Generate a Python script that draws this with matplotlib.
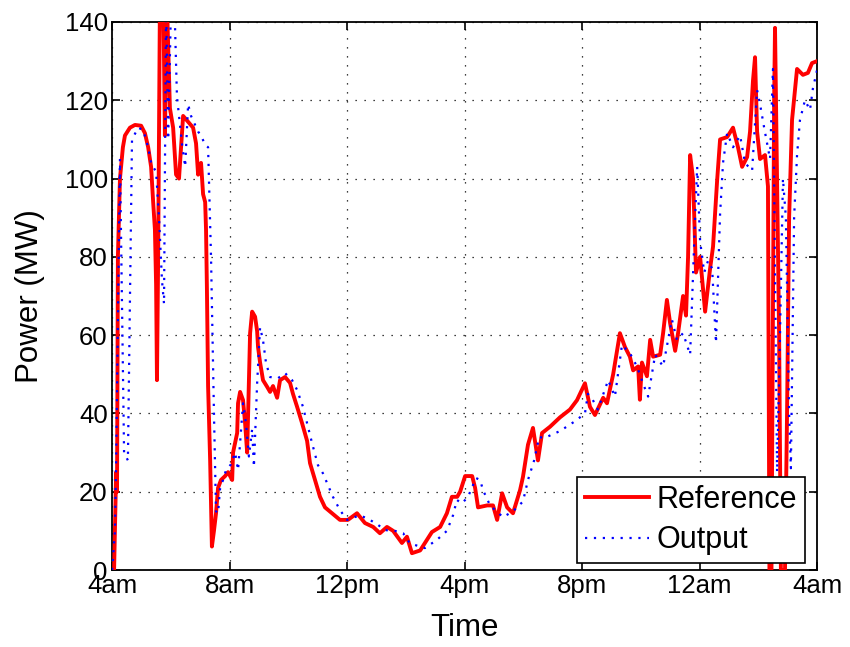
import matplotlib
matplotlib.use("Agg")
import matplotlib.pyplot as plt

# ---- data (hours since 4am) ----
ref_hours = [0.0, 0.07, 0.14, 0.17, 0.20, 0.27, 0.37, 0.44, 0.61, 0.78, 0.99, 1.12, 1.23, 1.33,
             1.40, 1.46, 1.50, 1.53, 1.57, 1.63, 1.74, 1.80, 1.87, 1.97, 2.08, 2.18, 2.28, 2.42,
             2.59, 2.76, 2.86, 2.93, 3.03, 3.10, 3.17, 3.20, 3.23, 3.27, 3.34, 3.40, 3.47, 3.54,
             3.61, 3.71, 3.85, 3.95, 4.09, 4.12, 4.26, 4.29, 4.36, 4.46, 4.53, 4.60, 4.63, 4.70,
             4.77, 4.87, 4.94, 4.97, 5.04, 5.14, 5.28, 5.38, 5.48, 5.62, 5.72, 5.89, 6.06, 6.16,
             6.30, 6.47, 6.64, 6.74, 6.91, 7.08, 7.25, 7.49, 7.76, 8.03, 8.34, 8.61, 8.89, 9.12,
             9.36, 9.57, 9.87, 10.04, 10.21, 10.49, 10.72, 10.89, 11.17, 11.40, 11.57, 11.75,
             11.85, 12.02, 12.26, 12.36, 12.46, 12.77, 12.97, 13.11, 13.28, 13.45, 13.65, 13.89,
             13.99, 14.16, 14.33, 14.50, 14.64, 14.91, 15.25, 15.59, 15.83, 16.10, 16.27, 16.44,
             16.72, 16.85, 17.06, 17.29, 17.46, 17.63, 17.74, 17.91, 17.97, 18.04, 18.21, 18.32,
             18.42, 18.66, 18.76, 18.89, 19.00, 19.17, 19.27, 19.44, 19.54, 19.61, 19.68, 19.78,
             19.88, 20.02, 20.19, 20.36, 20.46, 20.60, 20.70, 20.94, 21.14, 21.31, 21.45, 21.62,
             21.72, 21.82, 21.89, 21.96, 22.06, 22.23, 22.33, 22.38, 22.45, 22.54, 22.57, 22.64,
             22.71, 22.77, 22.91, 22.98, 23.05, 23.15, 23.32, 23.52, 23.69, 23.83, 24.0]
ref_power = [0, 0, 25, 20, 80, 100, 108, 111, 113, 113.7, 113.5, 111.6, 108, 103,
             94, 87, 73, 48.5, 80, 145, 150, 111, 145, 118, 113, 101, 100, 116,
             114.5, 113, 109, 101, 104, 96, 94, 87, 72, 47, 28, 6, 10, 14.5,
             21, 23, 24, 25, 23, 30, 35, 42.6, 45.5, 43.4, 37.5, 30, 39, 60.5,
             66, 64.7, 61, 57, 53, 48.5, 46.8, 45.5, 47, 44, 48.5, 49.3, 47.8, 45,
             41.7, 37.5, 33, 27.3, 23, 18.7, 16, 14.5, 12.8, 12.8, 14.5, 12, 11, 9.4,
             11, 10, 6.9, 8.5, 4.3, 5, 7.7, 9.7, 11, 14.5, 18.7, 18.7,
             20, 24, 24, 21, 16, 16.5, 16.5, 12.8, 19.6, 16, 14.5, 20.4,
             23.8, 32, 36.3, 28, 35, 36.6, 39, 41, 43.4, 47.7, 41.7, 39.6,
             44, 42.6, 50, 60.5, 57, 54.5, 51, 52, 43.5, 53, 49.5, 58.8,
             54.5, 55, 60.5, 69, 63, 56, 60.5, 70, 65, 80, 106, 100,
             76, 80, 66, 77, 82.6, 99.6, 110, 110.6, 113, 108, 103, 105.5,
             112, 125, 131, 112, 105, 106, 98, 0, 0, 120, 138.5, 100,
             60, 0, 0, 40, 90, 115, 128, 126.5, 127, 129.5, 130]

out_hours = [0.0, 0.10, 0.14, 0.27, 0.41, 0.54, 0.68, 0.89, 1.06, 1.23, 1.33, 1.50, 1.60, 1.70,
             1.77, 1.84, 1.91, 2.01, 2.14, 2.21, 2.28, 2.38, 2.49, 2.59, 2.69, 2.83, 2.93, 3.03,
             3.17, 3.27, 3.37, 3.47, 3.54, 3.61, 3.68, 3.78, 3.88, 4.05, 4.19, 4.29, 4.46, 4.56,
             4.66, 4.77, 4.83, 4.94, 5.04, 5.14, 5.24, 5.38, 5.65, 5.89, 6.13, 6.30, 6.50, 6.67,
             6.81, 7.01, 7.18, 7.35, 7.52, 7.76, 8.00, 8.44, 8.78, 9.06, 9.29, 9.63, 9.91, 10.14,
             10.65, 11.06, 11.40, 11.61, 11.74, 11.91, 12.12, 12.39, 12.53, 12.63, 12.87, 13.31,
             13.65, 13.99, 14.16, 14.37, 14.54, 14.71, 15.25, 15.76, 16.10, 16.20, 16.37, 16.54,
             16.89, 17.12, 17.36, 17.63, 17.87, 18.11, 18.25, 18.49, 18.76, 19.06, 19.23, 19.44,
             19.68, 19.85, 19.92, 20.02, 20.16, 20.29, 20.43, 20.56, 20.70, 20.80, 20.94, 21.14,
             21.38, 21.55, 21.79, 21.96, 22.06, 22.20, 22.40, 22.50, 22.64, 22.74, 22.84, 22.94,
             23.05, 23.11, 23.22, 23.32, 23.42, 23.59, 23.76, 23.86, 24.0]
out_power = [0, 10, 28, 105, 30, 28, 110, 113, 112.4, 108, 104, 101.7, 90, 74,
             68, 145, 110, 145, 140, 121, 116, 109, 103, 119, 116, 113.7, 112, 111,
             108.6, 108, 80, 40, 15, 14.5, 21, 23, 25.5, 27, 30, 25.5, 42.6, 37.5,
             29, 36, 26.3, 47.8, 62, 58.7, 53, 49.3, 49, 50.3, 48.5, 46, 41.7, 36.6,
             32.4, 26.8, 24.7, 21.7, 18.7, 15.3, 12.8, 14, 12.8, 11.5, 10.2, 10, 9.4, 6.8,
             5.6, 7.7, 10, 14, 17.9, 17, 18.7, 23.5, 23, 20.4, 16.5, 13.5,
             15, 17.5, 23, 28, 34, 33.7, 35.5, 38, 40, 45, 43.4, 41,
             48.5, 44.3, 57.5, 55.4, 52, 47, 44.3, 55, 52, 64, 58.8, 60.5,
             55, 90, 103, 84, 76, 79, 77, 58, 91, 104, 111.6, 108,
             111, 104, 102, 122.6, 119, 113, 105, 128, 25, 60, 100, 90,
             40, 26, 90, 106, 115, 120, 117.5, 123, 127.7]

tick_hours = [0, 4, 8, 12, 16, 20, 24]
tick_labels = ["4am", "8am", "12pm", "4pm", "8pm", "12am", "4am"]
y_ticks = [0, 20, 40, 60, 80, 100, 120, 140]

plt.rcParams['font.family'] = ['Liberation Sans', 'DejaVu Sans']

fig = plt.figure(figsize=(8.5, 6.47), dpi=100)
ax = fig.add_axes([0.1318, 0.119, 0.8294, 0.847])

ax.plot(ref_hours, ref_power, color='#ff0000', lw=2.8, label='Reference', zorder=3)
ax.plot(out_hours, out_power, color='#0000ff', lw=1.6, linestyle=(0, (1, 3)),
        label='Output', zorder=4)

ax.set_xlim(0, 24)
ax.set_ylim(0, 140)
ax.set_xticks(tick_hours)
ax.set_xticklabels(tick_labels)
ax.set_yticks(y_ticks)
ax.tick_params(direction='in', top=True, right=True, length=6, width=1.2,
               labelsize=18.5, pad=3)
ax.grid(True, color='black', linestyle=(0, (1, 6.2)), linewidth=0.9)
for s in ax.spines.values():
    s.set_linewidth(1.3)

ax.set_xlabel('Time', fontsize=22.5, labelpad=11)
ax.set_ylabel('Power (MW)', fontsize=22.5, labelpad=14)

leg = ax.legend(loc='lower right', bbox_to_anchor=(0.983, 0.013), fontsize=22,
                handlelength=2.1, frameon=True, fancybox=False, framealpha=1,
                edgecolor='black', borderaxespad=0.0, borderpad=0.25,
                labelspacing=0.35, handletextpad=0.25)
leg.get_frame().set_linewidth(1.2)

fig.savefig('out.png', dpi=100)
